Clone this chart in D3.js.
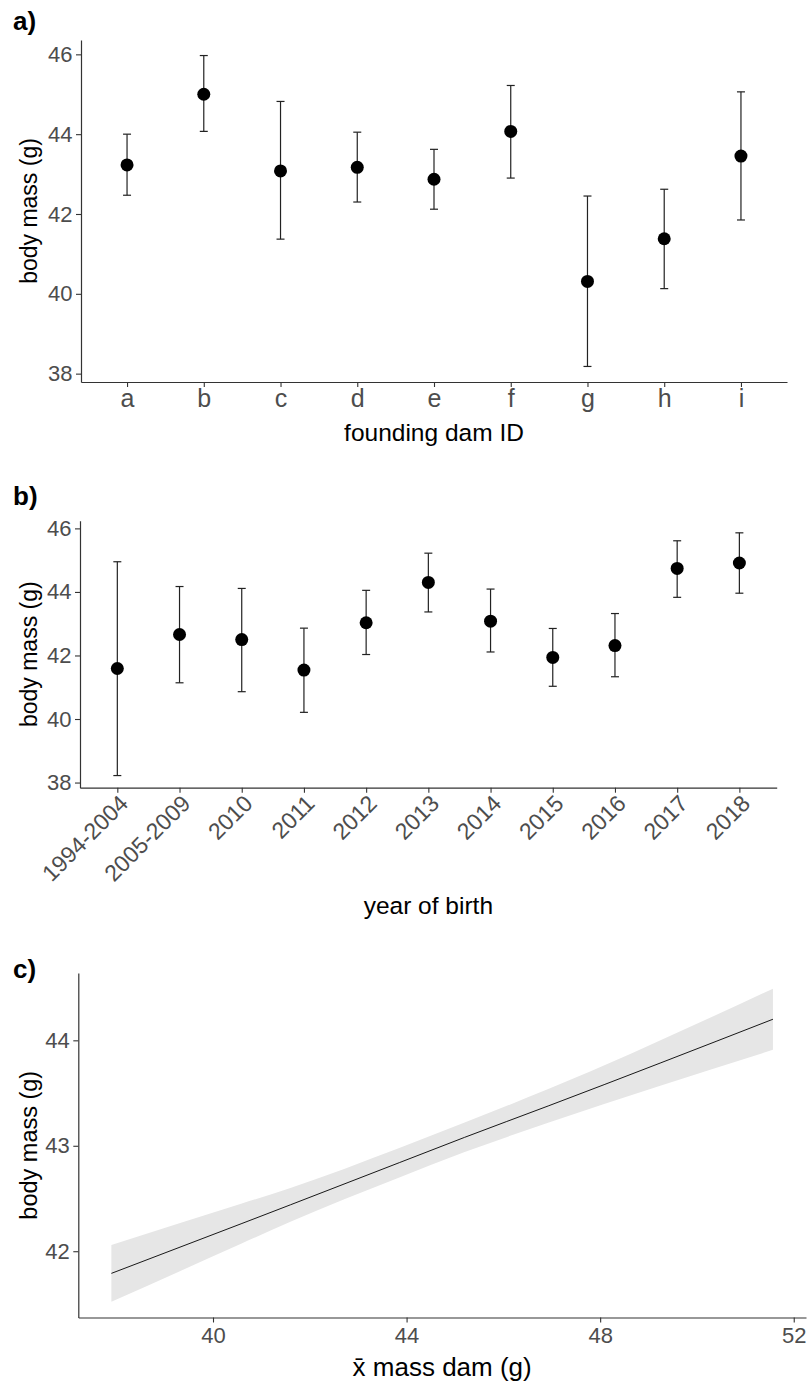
<!DOCTYPE html>
<html>
<head>
<meta charset="utf-8">
<script src="https://cdn.jsdelivr.net/npm/d3@7"></script>
<style>
    body { margin: 0; background: #fff; }
    svg text { font-family: "Liberation Sans", Arial, sans-serif; }
</style>
</head>
<body>
<div id="canvas"></div>
<script>
// a) body mass by founding dam
let damIds = ['a', 'b', 'c', 'd', 'e', 'f', 'g', 'h', 'i']
let damMean = [43.23, 45.00, 43.08, 43.17, 42.87, 44.07, 40.31, 41.38, 43.45]
let damLow = [42.47, 44.07, 41.37, 42.30, 42.12, 42.90, 38.18, 40.13, 41.85]
let damHigh = [44.00, 45.97, 44.82, 44.05, 43.62, 45.22, 42.45, 42.62, 45.06]

// b) body mass by year of birth
let years = ['1994-2004', '2005-2009', '2010', '2011', '2012', '2013', '2014', '2015', '2016', '2017', '2018']
let yearMean = [41.59, 42.66, 42.50, 41.54, 43.03, 44.30, 43.08, 41.94, 42.31, 44.74, 44.91]
let yearLow = [38.22, 41.14, 40.86, 40.21, 42.03, 43.37, 42.11, 41.03, 41.33, 43.83, 43.96]
let yearHigh = [44.95, 44.17, 44.11, 42.86, 44.05, 45.22, 44.09, 42.85, 43.32, 45.61, 45.86]

// c) fitted body mass vs mean dam mass (line + interval read off the plot)
let damMassX = [37.9, 40.58, 41.6, 43.85, 45.2, 46.94, 51.57]
let fitMean = [41.79, 42.26, 42.44, 42.84, 43.08, 43.38, 44.20]
let fitLow = [41.52, 42.07, 42.28, 42.70, 42.94, 43.22, 43.91]
let fitHigh = [42.06, 42.45, 42.60, 42.98, 43.22, 43.54, 44.49]

let ticksAB = [38, 40, 42, 44, 46]
let ticksCy = [42, 43, 44]
let ticksCx = [40, 44, 48, 52]

let width = 811
let height = 1385
let svg = d3.select('#canvas').append('svg')
    .attr('width', width)
    .attr('height', height)

svg.append('rect').attr('width', width).attr('height', height).attr('fill', '#fff')

// ggplot style 5% expansion
let expand = function (lo, hi) {
    let pad = (hi - lo) * 0.05
    return [lo - pad, hi + pad]
}

let styleAxis = function (g, size) {
    g.attr('font-family', null).attr('font-size', null)
    g.select('.domain').attr('stroke', '#333').attr('stroke-width', 1.2)
    g.selectAll('.tick line').attr('stroke', '#333').attr('stroke-width', 1.1)
    g.selectAll('.tick text').attr('fill', '#4d4d4d').style('font-size', size + 'px')
}

let dotPanel = function (cfg) {
    let rows = cfg.cats.map((c, i) => ({ cat: c, mean: cfg.mean[i], lo: cfg.low[i], hi: cfg.high[i] }))
    let x = d3.scalePoint().domain(cfg.cats).range([cfg.left, cfg.right]).padding(0.6)
    let y = d3.scaleLinear()
        .domain(expand(d3.min(cfg.low), d3.max(cfg.high)))
        .range([cfg.bottom, cfg.top])

    let g = svg.append('g')

    let gy = g.append('g')
        .attr('transform', 'translate(' + cfg.left + ',0)')
        .call(d3.axisLeft(y).tickValues(cfg.yTicks).tickSize(5).tickSizeOuter(0).tickPadding(3.5))
    styleAxis(gy, 22)

    let gx = g.append('g')
        .attr('transform', 'translate(0,' + cfg.bottom + ')')
        .call(d3.axisBottom(x).tickSize(5).tickSizeOuter(0))
    styleAxis(gx, cfg.xSize)
    if (cfg.rotate) {
        gx.selectAll('.tick text')
            .attr('y', 0)
            .attr('dy', '0.72em')
            .attr('text-anchor', 'end')
            .attr('transform', 'translate(0,5.5) rotate(-45)')
    } else {
        gx.selectAll('.tick text').attr('y', 24.5).attr('dy', 0)
    }

    // error bars
    let bars = g.append('g').selectAll('g').data(rows).enter().append('g')
    bars.append('line')
        .attr('x1', d => x(d.cat)).attr('x2', d => x(d.cat))
        .attr('y1', d => y(d.lo)).attr('y2', d => y(d.hi))
    bars.append('line')
        .attr('x1', d => x(d.cat) - 4).attr('x2', d => x(d.cat) + 4)
        .attr('y1', d => y(d.lo)).attr('y2', d => y(d.lo))
    bars.append('line')
        .attr('x1', d => x(d.cat) - 4).attr('x2', d => x(d.cat) + 4)
        .attr('y1', d => y(d.hi)).attr('y2', d => y(d.hi))
    bars.selectAll('line').attr('stroke', '#222').attr('stroke-width', 1.2)

    g.append('g').selectAll('circle').data(rows).enter().append('circle')
        .attr('cx', d => x(d.cat))
        .attr('cy', d => y(d.mean))
        .attr('r', 6.5)
        .attr('fill', '#000')

    // titles
    g.append('text')
        .attr('transform', 'translate(37,' + (cfg.top + cfg.bottom) / 2 + ') rotate(-90)')
        .attr('text-anchor', 'middle')
        .style('font-size', '23px')
        .text('body mass (g)')
    g.append('text')
        .attr('x', (cfg.left + cfg.right) / 2)
        .attr('y', cfg.titleY)
        .attr('text-anchor', 'middle')
        .style('font-size', '24.5px')
        .text(cfg.title)
    g.append('text')
        .attr('x', 13)
        .attr('y', cfg.labelY)
        .style('font-size', '26px')
        .style('font-weight', 'bold')
        .text(cfg.label)
}

dotPanel({
    cats: damIds, mean: damMean, low: damLow, high: damHigh,
    left: 81, right: 787, top: 40, bottom: 382,
    yTicks: ticksAB, xSize: 25, rotate: false,
    title: 'founding dam ID', titleY: 440.5, label: 'a)', labelY: 30
})

dotPanel({
    cats: years, mean: yearMean, low: yearLow, high: yearHigh,
    left: 80, right: 776.7, top: 520.7, bottom: 787.7,
    yTicks: ticksAB, xSize: 23, rotate: true,
    title: 'year of birth', titleY: 914, label: 'b)', labelY: 505
})

// c) regression line with ribbon
let cLeft = 78.3, cRight = 806, cTop = 973, cBottom = 1317.5
let fit = damMassX.map((v, i) => ({ x: v, mean: fitMean[i], lo: fitLow[i], hi: fitHigh[i] }))

let xc = d3.scaleLinear()
    .domain(expand(d3.min(damMassX), d3.max(damMassX)))
    .range([cLeft, cRight])
let yc = d3.scaleLinear()
    .domain(expand(d3.min(fitLow), d3.max(fitHigh)))
    .range([cBottom, cTop])

let gc = svg.append('g')

let ribbon = d3.area()
    .x(d => xc(d.x))
    .y0(d => yc(d.lo))
    .y1(d => yc(d.hi))
    .curve(d3.curveMonotoneX)

gc.append('path')
    .datum(fit)
    .attr('d', ribbon)
    .attr('fill', '#e6e6e6')

gc.append('path')
    .datum(fit)
    .attr('d', d3.line().x(d => xc(d.x)).y(d => yc(d.mean)).curve(d3.curveMonotoneX))
    .attr('fill', 'none')
    .attr('stroke', '#000')
    .attr('stroke-width', 0.9)

let gcy = gc.append('g')
    .attr('transform', 'translate(' + cLeft + ',0)')
    .call(d3.axisLeft(yc).tickValues(ticksCy).tickFormat(d3.format('d')).tickSize(5).tickSizeOuter(0).tickPadding(3.5))
styleAxis(gcy, 22)

let gcx = gc.append('g')
    .attr('transform', 'translate(0,' + cBottom + ')')
    .call(d3.axisBottom(xc).tickValues(ticksCx).tickFormat(d3.format('d')).tickSize(5).tickSizeOuter(0))
styleAxis(gcx, 22)
gcx.selectAll('.tick text').attr('y', 25.5).attr('dy', 0)

gc.append('text')
    .attr('transform', 'translate(37,' + (cTop + cBottom) / 2 + ') rotate(-90)')
    .attr('text-anchor', 'middle')
    .style('font-size', '23.5px')
    .text('body mass (g)')
gc.append('text')
    .attr('x', (cLeft + cRight) / 2)
    .attr('y', 1376)
    .attr('text-anchor', 'middle')
    .style('font-size', '26px')
    .text('x\u0304 mass dam (g)')
gc.append('text')
    .attr('x', 13)
    .attr('y', 978)
    .style('font-size', '26px')
    .style('font-weight', 'bold')
    .text('c)')
</script>
</body>
</html>
